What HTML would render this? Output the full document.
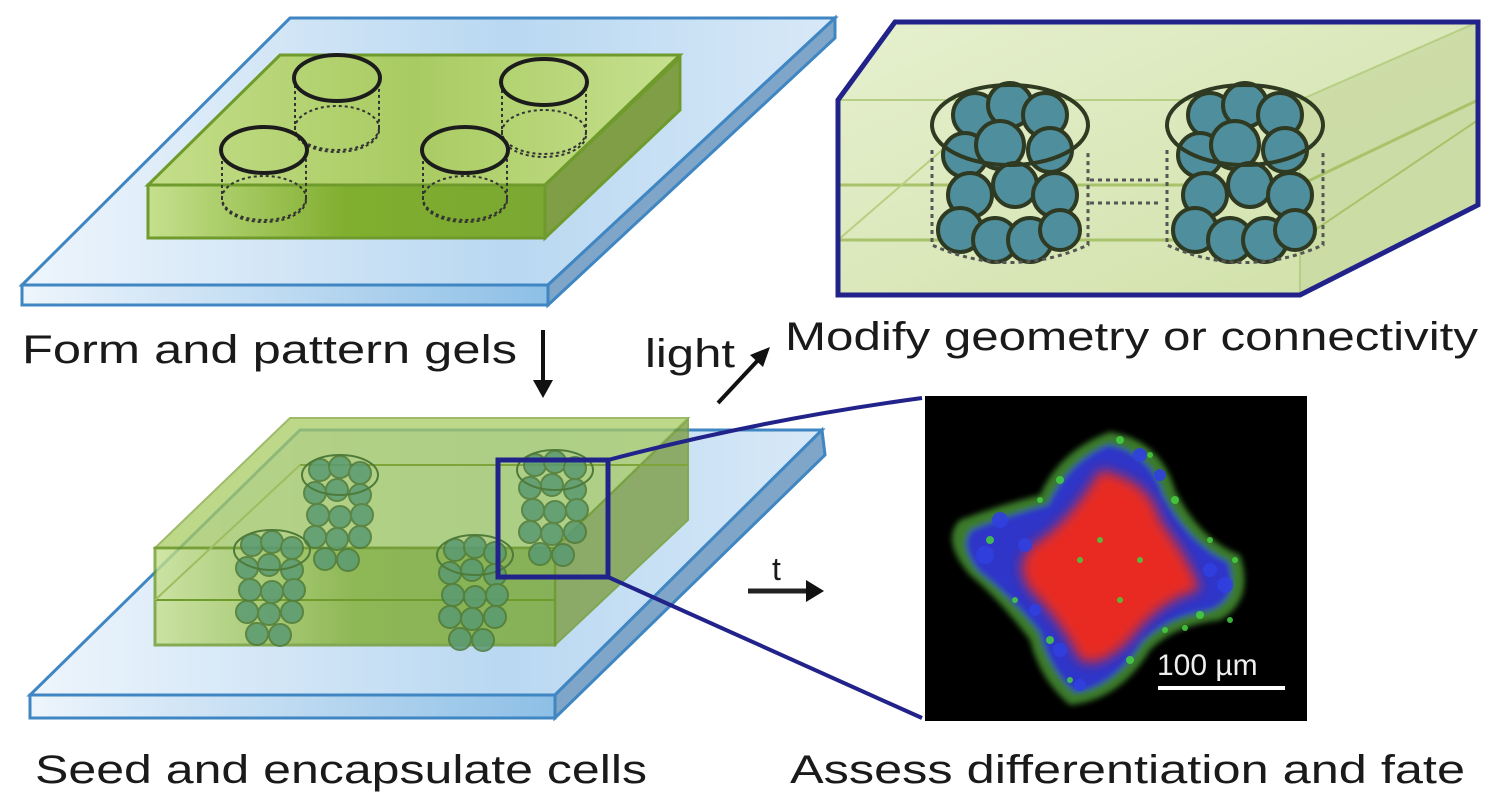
<!DOCTYPE html>
<html><head><meta charset="utf-8"><style>
html,body{margin:0;padding:0;background:#fff;}
svg{display:block;}
text{font-family:"Liberation Sans",Arial,sans-serif;fill:#1a1a1a;}
</style></head><body>
<svg width="1500" height="806" viewBox="0 0 1500 806" xmlns="http://www.w3.org/2000/svg">
<defs>
<linearGradient id="glass" x1="0" y1="0" x2="1" y2="0">
<stop offset="0" stop-color="#eef5fc"/><stop offset="0.6" stop-color="#b9d8f1"/><stop offset="1" stop-color="#d8e9f8"/></linearGradient>
<linearGradient id="glassF" x1="0" y1="0" x2="1" y2="0">
<stop offset="0" stop-color="#eef5fc"/><stop offset="1" stop-color="#8dbfe6"/></linearGradient>
<linearGradient id="gelTop" x1="0" y1="0" x2="1" y2="0">
<stop offset="0" stop-color="#c4de8a"/><stop offset="0.5" stop-color="#a9cb62"/><stop offset="1" stop-color="#c6e08e"/></linearGradient>
<linearGradient id="gelF" x1="0" y1="0" x2="1" y2="0">
<stop offset="0" stop-color="#c6e08e"/><stop offset="0.5" stop-color="#80ae2e"/><stop offset="1" stop-color="#7aa832"/></linearGradient>
<linearGradient id="boxG" x1="0" y1="0" x2="1" y2="1">
<stop offset="0" stop-color="#e6f0cf"/><stop offset="1" stop-color="#cfe0a6"/></linearGradient>
<filter id="blur" x="-20%" y="-20%" width="140%" height="140%"><feGaussianBlur stdDeviation="6"/></filter>
<filter id="blur2" x="-20%" y="-20%" width="140%" height="140%"><feGaussianBlur stdDeviation="3"/></filter>
<g id="cells">
<g fill="#4f8e9c" stroke="#2f3a22" stroke-width="4">
<circle cx="-35" cy="-55" r="22"/><circle cx="0" cy="-65" r="22"/><circle cx="35" cy="-55" r="22"/>
<circle cx="-45" cy="-15" r="22"/><circle cx="-10" cy="-25" r="24"/><circle cx="40" cy="-20" r="22"/>
<circle cx="-40" cy="25" r="22"/><circle cx="5" cy="15" r="22"/><circle cx="45" cy="25" r="22"/>
<circle cx="-50" cy="60" r="22"/><circle cx="-15" cy="70" r="22"/><circle cx="20" cy="70" r="22"/><circle cx="50" cy="60" r="20"/>
</g>
<ellipse cx="0" cy="-45" rx="78" ry="40" fill="none" stroke="#2f3a22" stroke-width="4"/>
<path d="M-78 -20 V75 Q0 110 78 75 V-20" fill="none" stroke="#555" stroke-width="3" stroke-dasharray="4 4"/>
</g>
<g id="cells2">
<g fill="#5a9a72" stroke="#4e7a3a" stroke-width="2" opacity="0.85">
<circle cx="-20" cy="-45" r="11"/><circle cx="0" cy="-48" r="11"/><circle cx="20" cy="-42" r="11"/>
<circle cx="-25" cy="-22" r="11"/><circle cx="-3" cy="-25" r="11"/><circle cx="20" cy="-20" r="11"/>
<circle cx="-22" cy="0" r="11"/><circle cx="0" cy="2" r="11"/><circle cx="22" cy="0" r="11"/>
<circle cx="-25" cy="22" r="11"/><circle cx="-3" cy="24" r="11"/><circle cx="20" cy="22" r="11"/>
<circle cx="-15" cy="44" r="11"/><circle cx="8" cy="45" r="11"/>
</g>
<ellipse cx="0" cy="-40" rx="38" ry="20" fill="none" stroke="#4e7a3a" stroke-width="2"/>
</g>
</defs>

<!-- Slide 1 -->
<polygon points="290,18 835,18 548,285 22,285" fill="url(#glass)" stroke="#3f86c2" stroke-width="3"/>
<polygon points="22,285 548,285 548,305 22,305" fill="url(#glassF)" stroke="#3f86c2" stroke-width="3"/>
<polygon points="548,285 835,18 835,38 548,305" fill="#7fa6c8" stroke="#3f86c2" stroke-width="3"/>
<!-- Gel 1 -->
<polygon points="280,55 680,55 545,185 148,185" fill="url(#gelTop)" stroke="#6f9a2c" stroke-width="3"/>
<polygon points="148,185 545,185 545,238 148,238" fill="url(#gelF)" stroke="#6f9a2c" stroke-width="3"/>
<polygon points="545,185 680,58 680,110 545,238" fill="#7f9e46" stroke="#6f9a2c" stroke-width="3"/>
<g fill="none">
<g stroke="#333" stroke-width="2" stroke-dasharray="3 3">
<path d="M295 85 V130 A42 22 0 0 0 379 130 V85"/><ellipse cx="337" cy="128" rx="42" ry="22"/>
<path d="M222 155 V200 A42 22 0 0 0 306 200 V155"/><ellipse cx="264" cy="198" rx="42" ry="22"/>
<path d="M502 90 V135 A42 22 0 0 0 586 135 V90"/><ellipse cx="544" cy="132" rx="42" ry="22"/>
<path d="M423 155 V200 A42 22 0 0 0 507 200 V155"/><ellipse cx="465" cy="198" rx="42" ry="22"/>
</g>
<g stroke="#1c1c1c" stroke-width="4">
<ellipse cx="337" cy="78" rx="43" ry="23"/><ellipse cx="264" cy="150" rx="43" ry="23"/>
<ellipse cx="544" cy="82" rx="43" ry="23"/><ellipse cx="465" cy="150" rx="43" ry="23"/>
</g></g>

<text x="22" y="363" font-size="40" textLength="495" lengthAdjust="spacingAndGlyphs">Form and pattern gels</text>
<line x1="543" y1="330" x2="543" y2="385" stroke="#111" stroke-width="4"/>
<polygon points="533,380 553,380 543,398" fill="#111"/>
<text x="645" y="367" font-size="40" textLength="90" lengthAdjust="spacingAndGlyphs">light</text>
<line x1="718" y1="403" x2="760" y2="358" stroke="#111" stroke-width="4"/>
<polygon points="770,347 750,355 763,367" fill="#111"/>
<text x="785" y="350" font-size="40" textLength="693" lengthAdjust="spacingAndGlyphs">Modify geometry or connectivity</text>

<!-- Top-right box -->
<polygon points="895,22 1478,22 1478,205 1300,295 838,295 838,100" fill="url(#boxG)"/>
<polygon points="1300,100 1478,22 1478,205 1300,295" fill="#c9d9a2" opacity="0.8"/>
<line x1="838" y1="185" x2="1300" y2="185" stroke="#a9c36a" stroke-width="3"/>
<line x1="838" y1="240" x2="1300" y2="240" stroke="#a9c36a" stroke-width="3"/>
<line x1="838" y1="240" x2="1000" y2="100" stroke="#b9cf80" stroke-width="2"/>
<line x1="1300" y1="185" x2="1478" y2="100" stroke="#a9c36a" stroke-width="3"/>
<line x1="1300" y1="240" x2="1478" y2="120" stroke="#a9c36a" stroke-width="2"/>
<line x1="838" y1="100" x2="1300" y2="100" stroke="#b7cf84" stroke-width="2"/>
<line x1="1300" y1="100" x2="1300" y2="295" stroke="#b7cf84" stroke-width="2"/>
<line x1="1300" y1="100" x2="1478" y2="22" stroke="#b7cf84" stroke-width="2"/>
<g stroke="#555" stroke-width="3" stroke-dasharray="4 4"><line x1="1090" y1="180" x2="1162" y2="180"/><line x1="1090" y1="203" x2="1162" y2="203"/></g>
<use href="#cells" x="1010" y="170"/>
<use href="#cells" x="1245" y="170"/>
<polygon points="895,22 1478,22 1478,205 1300,295 838,295 838,100" fill="none" stroke="#22238a" stroke-width="5"/>

<!-- Slide 2 -->
<polygon points="300,430 822,430 555,695 30,695" fill="url(#glass)" stroke="#3f86c2" stroke-width="3"/>
<polygon points="30,695 555,695 555,718 30,718" fill="url(#glassF)" stroke="#3f86c2" stroke-width="3"/>
<polygon points="555,695 822,430 825,455 555,718" fill="#7fa6c8" stroke="#3f86c2" stroke-width="3"/>
<!-- Gel 2 -->
<polygon points="290,418 688,418 555,548 155,548" fill="#a9cb62" opacity="0.75" stroke="#7ea43a" stroke-width="2"/>
<polygon points="155,548 555,548 555,645 155,645" fill="url(#gelF)" opacity="0.8" stroke="#6f9a2c" stroke-width="3"/>
<polygon points="555,548 688,420 688,520 555,645" fill="#7f9e46" opacity="0.8" stroke="#6f9a2c" stroke-width="2"/>
<line x1="300" y1="465" x2="688" y2="465" stroke="#7ea43a" stroke-width="2"/>
<line x1="155" y1="600" x2="555" y2="600" stroke="#6f9a2c" stroke-width="2"/>
<line x1="155" y1="600" x2="300" y2="465" stroke="#9fbd60" stroke-width="2"/>
<use href="#cells2" x="340" y="515"/>
<use href="#cells2" x="272" y="590"/>
<use href="#cells2" x="475" y="595"/>
<use href="#cells2" x="555" y="510"/>
<rect x="498" y="460" width="110" height="117" fill="none" stroke="#22238a" stroke-width="5"/>
<path d="M608 460 Q760 420 922 398" fill="none" stroke="#22238a" stroke-width="4"/>
<line x1="608" y1="577" x2="922" y2="718" stroke="#22238a" stroke-width="4"/>

<!-- t arrow -->
<text x="772" y="580" font-size="32">t</text>
<line x1="748" y1="591" x2="810" y2="591" stroke="#222" stroke-width="5"/>
<polygon points="806,580 824,591 806,602" fill="#111"/>

<!-- micrograph -->
<rect x="925" y="396" width="382" height="325" fill="#000"/>
<g filter="url(#blur2)">
<path d="M1110 432 Q1160 440 1175 490 Q1200 540 1240 555 Q1255 600 1220 620 Q1175 625 1150 650 Q1120 700 1070 705 Q1040 680 1030 640 Q1000 600 970 575 Q940 540 960 520 Q1000 505 1040 495 Q1060 450 1110 432 Z" fill="#3a7a2a"/>
<path d="M1108 445 Q1150 452 1163 495 Q1190 545 1228 562 Q1240 598 1210 610 Q1168 616 1142 642 Q1112 688 1075 692 Q1050 670 1040 632 Q1010 595 980 572 Q958 545 972 530 Q1008 515 1048 505 Q1068 462 1108 445 Z" fill="#2d35c8"/>
</g>
<path d="M1100 470 Q1150 480 1160 520 Q1190 560 1200 590 Q1160 600 1130 640 Q1100 670 1080 660 Q1060 620 1030 590 Q1010 560 1040 540 Q1070 520 1100 470 Z" fill="#e82a22" filter="url(#blur)"/>
<g fill="#46d040" opacity="0.85">
<circle cx="1120" cy="440" r="4"/><circle cx="1150" cy="455" r="3"/><circle cx="1175" cy="500" r="4"/><circle cx="1210" cy="540" r="3"/>
<circle cx="1235" cy="560" r="3"/><circle cx="1200" cy="615" r="4"/><circle cx="1165" cy="630" r="3"/><circle cx="1130" cy="660" r="4"/>
<circle cx="1070" cy="680" r="3"/><circle cx="1050" cy="640" r="4"/><circle cx="1015" cy="600" r="3"/><circle cx="990" cy="540" r="4"/>
<circle cx="1040" cy="500" r="3"/><circle cx="1060" cy="480" r="4"/><circle cx="1100" cy="540" r="3"/><circle cx="1140" cy="560" r="3"/>
<circle cx="1230" cy="620" r="3"/><circle cx="1185" cy="628" r="3"/><circle cx="1120" cy="600" r="3"/><circle cx="1080" cy="560" r="3"/>
</g>
<g fill="#3040e0" opacity="0.9">
<circle cx="1000" cy="520" r="8"/><circle cx="985" cy="555" r="9"/><circle cx="1025" cy="545" r="7"/><circle cx="1225" cy="585" r="8"/>
<circle cx="1210" cy="570" r="7"/><circle cx="1140" cy="455" r="7"/><circle cx="1160" cy="475" r="6"/><circle cx="1060" cy="650" r="7"/>
<circle cx="1080" cy="685" r="6"/><circle cx="1035" cy="610" r="6"/>
</g>
<text x="1157" y="675" font-size="30" style="fill:#eee">100 µm</text>
<line x1="1158" y1="688" x2="1285" y2="688" stroke="#fff" stroke-width="4"/>

<text x="35" y="783" font-size="40" textLength="612" lengthAdjust="spacingAndGlyphs">Seed and encapsulate cells</text>
<text x="790" y="783" font-size="40" textLength="675" lengthAdjust="spacingAndGlyphs">Assess differentiation and fate</text>
</svg>
</body></html>
